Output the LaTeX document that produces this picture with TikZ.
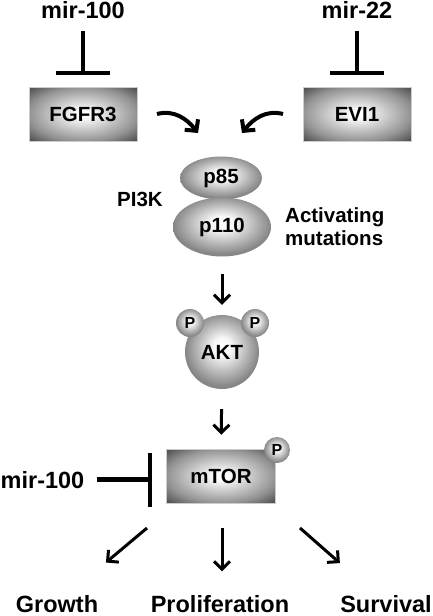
\documentclass[tikz,border=0pt]{standalone}
\usepackage{fontspec}
\setmainfont{Liberation Sans}
\usetikzlibrary{arrows.meta}
\usetikzlibrary{positioning}
\usetikzlibrary{shapes.geometric}

\pgfdeclareradialshading{boxshade}{\pgfpoint{0bp}{0bp}}{color(0bp)=(white); color(3bp)=(white); color(25bp)=(gray!85); color(36bp)=(gray!55!black); color(50bp)=(gray!55!black)}
\pgfdeclareradialshading{blobshade}{\pgfpoint{0bp}{4bp}}{color(0bp)=(white); color(6bp)=(gray!6); color(25bp)=(gray!95); color(50bp)=(gray!95)}

\begin{document}
\begin{tikzpicture}[x=1pt,y=-1pt,
    bigtext/.style={font=\fontsize{23.5}{26}\selectfont\bfseries},
    nodetext/.style={font=\fontsize{20.5}{23}\selectfont\bfseries},
    genebox/.style={nodetext,shading=boxshade,draw=gray!40,line width=0.4pt,minimum width=108pt,minimum height=54pt,inner sep=0pt},
    blob/.style={nodetext,ellipse,shading=blobshade,inner sep=0pt},
    phos/.style={circle,shading=blobshade,minimum size=28pt,inner sep=0pt,font=\fontsize{16}{18}\selectfont\bfseries},
    inhibit/.style={line width=4.5pt,-{Bar[width=54pt]}},
    act/.style={line width=3pt,-{Straight Barb[length=8pt,width=16pt]}},
    curvy/.style={line width=4pt,-{Straight Barb[length=8pt,width=17pt]}}]
  \useasboundingbox (0,0) rectangle (433,616);

  % receptors and their miRNAs
  \node[bigtext,anchor=base] (mirA) at (83,18) {mir-100};
  \node[bigtext,anchor=base] (mirB) at (357,18) {mir-22};
  \node[genebox] (fgfr3) at (83,114) {FGFR3};
  \node[genebox] (evi1) at (357,114) {EVI1};
  \draw[inhibit,shorten <=9pt,shorten >=11.5pt] (mirA) -- (fgfr3);
  \draw[inhibit,shorten <=9pt,shorten >=11.5pt] (mirB) -- (evi1);

  % PI3K
  \node[blob,minimum width=82pt,minimum height=43pt] (p85) at (221,178) {p85};
  \node[blob,minimum width=98pt,minimum height=59pt] (p110) at (222,227) {p110};
  \node[nodetext,anchor=base] (pi3k) at (140,206) {PI3K};
  \node[nodetext,align=left,anchor=west,inner sep=0pt] (actmut) at (285,227) {Activating\\mutations};
  \coordinate (bendL) at (157,114);
  \coordinate (tipL) at (198,133);
  \coordinate (bendR) at (283,114);
  \coordinate (tipR) at (242,133);
  \draw[curvy] (bendL) to[out=15,in=128] (tipL);
  \draw[curvy] (bendR) to[out=165,in=52] (tipR);

  % AKT
  \node[blob,minimum width=74pt,minimum height=74pt] (akt) at (222,352) {AKT};
  \node[phos] (pL) at (190,323) {P};
  \node[phos] (pR) at (255,323) {P};
  \draw[act,shorten <=17.5pt,shorten >=10pt] (p110) -- (akt);

  % mTOR
  \node[genebox,minimum width=109pt] (mtor) at (221,476) {mTOR};
  \node[phos,minimum size=26pt] (pM) at (277,450) {P};
  \draw[act,shorten <=20pt,shorten >=14pt] (akt) -- (mtor);
  \node[bigtext,anchor=base west,inner xsep=0pt] (mirC) at (0.5,488) {mir-100};
  \draw[inhibit,shorten <=12pt,shorten >=14pt] (mirC.east) -- (mirC.east -| mtor.west);

  % outcomes
  \node[bigtext,anchor=base] (growth) at (57,612) {Growth};
  \node[bigtext,anchor=base] (prolif) at (220,612) {Proliferation};
  \node[bigtext,anchor=base] (surv) at (386,612) {Survival};
  \coordinate (outL) at (147,528);
  \coordinate (outM) at (222,528);
  \coordinate (outR) at (300,528);
  \draw[act,shorten >=45pt] (outL) -- (growth);
  \draw[act,shorten >=20pt] (outM) -- (outM |- prolif.north);
  \draw[act,shorten >=43pt] (outR) -- (surv);
\end{tikzpicture}
\end{document}
